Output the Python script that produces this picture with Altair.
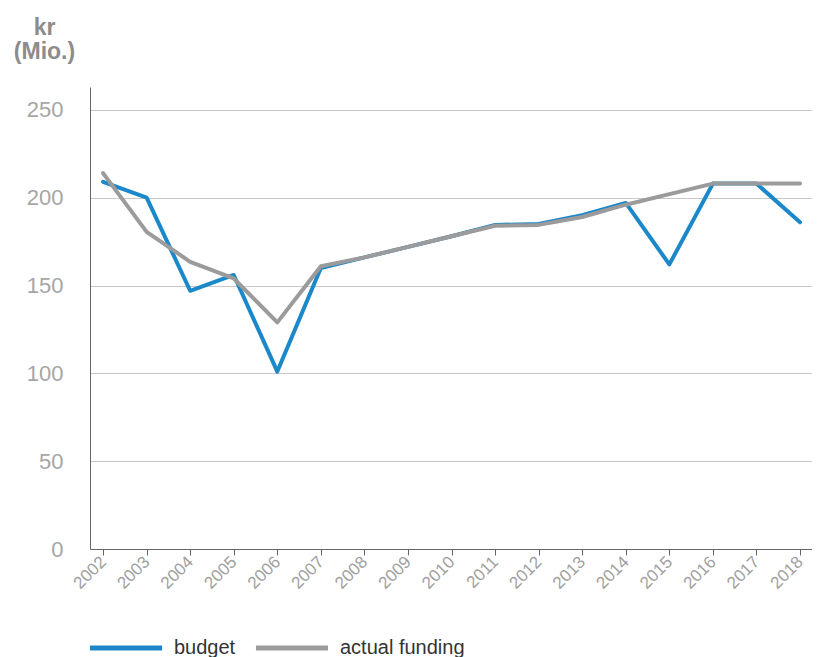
import altair as alt
import pandas as pd

years = list(range(2002, 2019))
budget = [209, 200, 147, 156, 101, 160, 166, 172, 178, 184.5, 185, 190, 197, 162, 208, 208, 186]
actual = [214, 180.5, 163.5, 154, 129, 161, 166, 172, 178, 184, 184.5, 189, 196, 202, 208, 208, 208]
series = ["budget", "actual funding"]
colors = ["#1a88c9", "#9b9b9b"]
y_ticks = [0, 50, 100, 150, 200, 250]

rows = []
for i, yr in enumerate(years):
    rows.append({"year": yr, "value": budget[i], "series": series[0]})
    rows.append({"year": yr, "value": actual[i], "series": series[1]})
df = pd.DataFrame(rows)

FONT = "Liberation Sans"

chart = alt.Chart(df).mark_line(strokeWidth=4, strokeCap="round", strokeJoin="round").encode(
    x=alt.X("year:Q",
            scale=alt.Scale(domain=[2001.70, 2018.275], nice=False, zero=False),
            axis=alt.Axis(values=years, format="d", title=None, grid=False,
                          labelAngle=315, labelAlign="right", labelBaseline="middle",
                          labelFontSize=17, labelColor="#a0a0a0", labelFont=FONT,
                          labelPadding=4, tickSize=6, tickColor="#666666",
                          domainColor="#666666", labelOverlap=False)),
    y=alt.Y("value:Q",
            scale=alt.Scale(domain=[0, 263], nice=False),
            axis=alt.Axis(values=y_ticks, title=["kr", "(Mio.)"], titleAngle=0,
                          titleX=-46, titleY=-53, titleAlign="center",
                          titleBaseline="alphabetic", titleFontSize=23,
                          titleFontWeight="bold", titleColor="#8c8c8c", titleFont=FONT,
                          titleLineHeight=24,
                          labelFontSize=22, labelColor="#a6a6a6", labelFont=FONT,
                          labelPadding=27, ticks=False, gridColor="#c8c8c8",
                          domainColor="#666666")),
    color=alt.Color("series:N",
                    scale=alt.Scale(domain=series, range=colors),
                    sort=series,
                    legend=alt.Legend(title=None, orient="none", legendX=-3, legendY=522,
                                      padding=0, offset=0,
                                      direction="horizontal", symbolType="stroke",
                                      symbolSize=5200, symbolStrokeWidth=5,
                                      labelFontSize=20, labelColor="#333333", labelFont=FONT,
                                      labelOffset=9, columnPadding=9)),
).properties(
    width=722,
    height=462,
    autosize=alt.AutoSizeParams(type="none"),
    padding={"left": 82, "top": 79, "right": 0, "bottom": 108},
).configure_view(stroke=None)

chart.save("out.html", embed_options={"renderer": "svg", "actions": False})
